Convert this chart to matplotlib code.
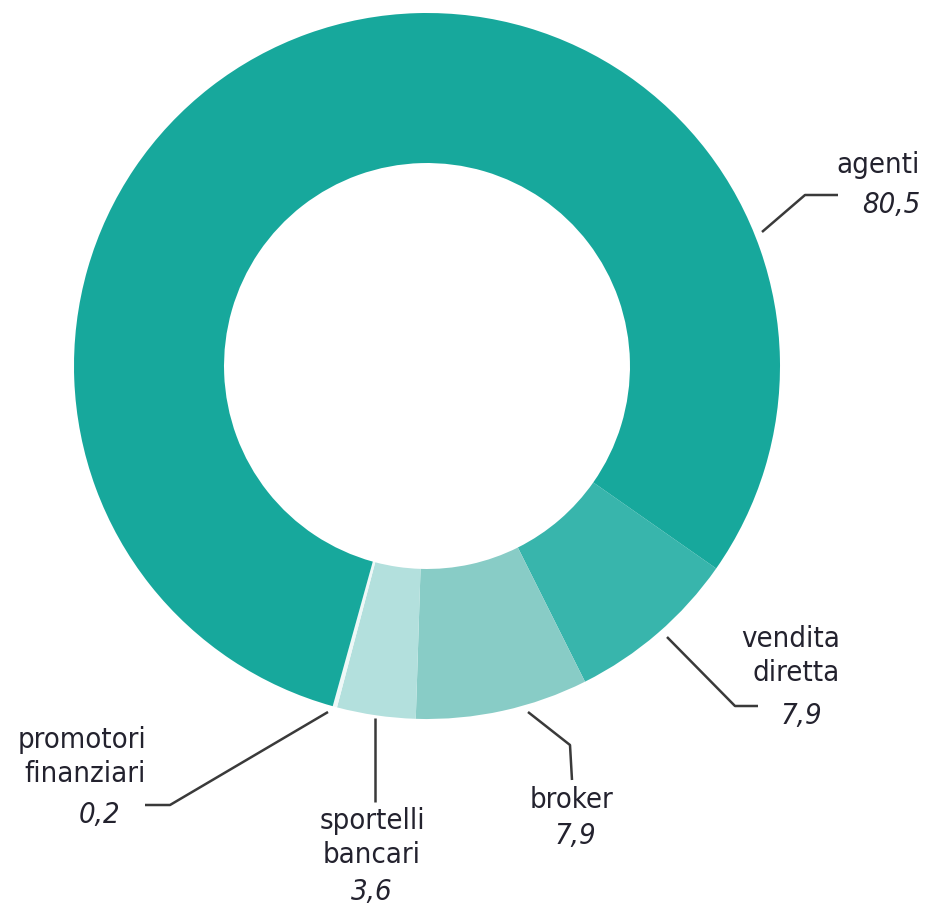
import matplotlib
matplotlib.use("Agg")
import matplotlib.pyplot as plt
from matplotlib import font_manager

# dati (quote %)
canali = ['vendita\ndiretta', 'broker', 'sportelli\nbancari', 'promotori\nfinanziari', 'agenti']
valori = [7.9, 7.9, 3.6, 0.2, 80.5]
etichette_val = ['7,9', '7,9', '3,6', '0,2', '80,5']
colori = ['#38b5ac', '#88ccc6', '#b3e0dd', '#eef8f7', '#17a89c']

W, H = 929, 914
fig = plt.figure(figsize=(W / 100, H / 100), dpi=100)
ax = fig.add_axes([0, 0, 1, 1])

cx, cy, R = 427, H - 366, 353
ax.pie(valori, colors=colori, startangle=-35, counterclock=False,
       center=(cx, cy), radius=R, normalize=True,
       wedgeprops=dict(width=R * 0.425, linewidth=0))
ax.set_xlim(0, W)
ax.set_ylim(0, H)
ax.set_aspect('equal')
ax.axis('off')

# font stretto se disponibile
nomi = set(f.name for f in font_manager.fontManager.ttflist)
condensati = [f for f in font_manager.fontManager.ttflist
              if f.name == 'DejaVu Sans' and 'ondensed' in f.fname]
if 'Liberation Sans Narrow' in nomi:
    fam, stretch, fs = ['Liberation Sans Narrow'], 'normal', 23
elif condensati:
    fam, stretch, fs = ['DejaVu Sans'], 'condensed', 21
else:
    fam, stretch, fs = ['DejaVu Sans'], 'normal', 19
col_txt = '#23222e'

def Y(y):
    return H - y

def linea(pts):
    xs = [p[0] for p in pts]
    ys = [Y(p[1]) for p in pts]
    ax.plot(xs, ys, color='#3a3a3a', lw=1.8, solid_capstyle='butt')

# linee di richiamo
linea([(762, 232), (805, 195), (838, 195)])
linea([(667, 637), (735, 706), (758, 706)])
linea([(528, 712), (570, 745), (572, 780)])
linea([(375, 718), (375, 802)])
linea([(328, 712), (170, 805), (145, 805)])

def testo(x, y, s, ha, italic=False):
    ax.text(x, Y(y), s, ha=ha, va='center', fontsize=fs, color=col_txt,
            family=fam, fontstretch=stretch,
            style='italic' if italic else 'normal', linespacing=1.3)

# agenti
testo(920, 165, 'agenti', 'right')
testo(920, 205, etichette_val[4], 'right', True)
# vendita diretta
testo(840, 656, canali[0], 'right')
testo(822, 716, etichette_val[0], 'right', True)
# broker
testo(572, 800, canali[1], 'center')
testo(575, 836, etichette_val[1], 'center', True)
# sportelli bancari
testo(372, 838, canali[2], 'center')
testo(372, 892, etichette_val[2], 'center', True)
# promotori finanziari
testo(146, 757, canali[3], 'right')
testo(120, 815, etichette_val[3], 'right', True)

fig.savefig('out.png', dpi=100)
